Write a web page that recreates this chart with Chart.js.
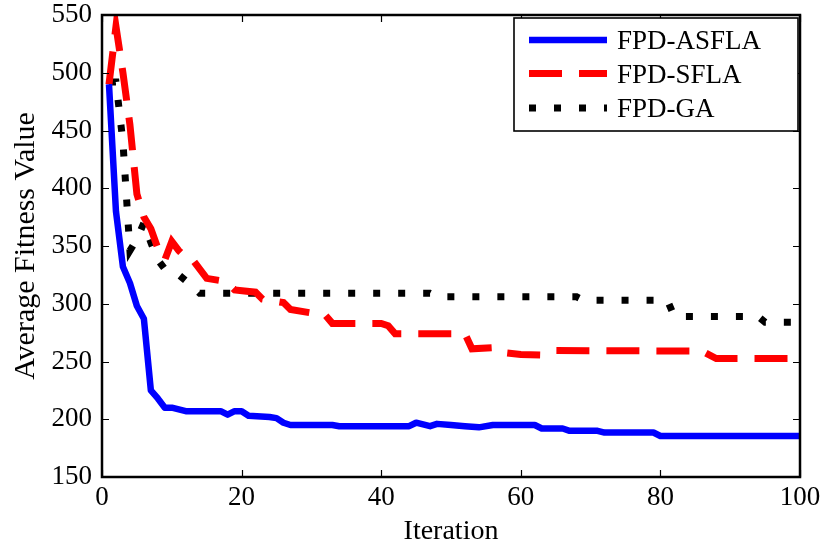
<!DOCTYPE html>
<html>
<head>
<meta charset="utf-8">
<script src="https://cdn.jsdelivr.net/npm/chart.js@4/dist/chart.umd.min.js"></script>
<style>
  html, body { margin: 0; padding: 0; background: #fff; }
  #wrap { width: 827px; height: 548px; }
</style>
</head>
<body>
<div id="wrap"><canvas id="fitChart" width="827" height="548"></canvas></div>
<script>
"use strict";

// iteration / value breakpoints
const asflaIter = [1, 2, 3, 4, 5, 6, 7, 8, 9, 10, 12, 17, 18, 19, 20, 21, 24, 25, 26, 27, 33, 34, 44, 45, 47, 48, 50, 52, 54, 56, 62, 63, 66, 67, 71, 72, 79, 80, 100];
const asflaVal = [490, 380, 332, 318, 298, 287, 225, 218, 210, 210, 207, 207, 204, 207, 207, 203, 202, 201, 197, 195, 195, 194, 194, 197, 194, 196, 195, 194, 193, 195, 195, 192, 192, 190, 190, 188.5, 188.5, 185.5, 185.5];

const sflaIter = [1, 2, 3, 4, 5, 6, 7, 8, 9, 10, 11, 12, 13, 15, 17, 18, 19, 22, 23, 26, 27, 30, 32, 33, 40, 41, 42, 52, 53, 56, 57, 60, 63, 65, 86, 88, 100];
const sflaVal = [490, 540, 500, 455, 395, 375, 365, 348, 338, 354, 346, 340, 338, 322, 320, 318, 312, 310, 304, 301, 295, 292, 290, 283, 283, 281, 274, 274, 261, 262, 258, 256, 255.5, 259.5, 259, 252.5, 252.5];

const gaIter = [1, 2, 3, 4, 5, 6, 7, 8, 9, 10, 11, 12, 13, 14, 47, 48, 68, 69, 81, 82, 94, 95, 100];
const gaVal = [492, 492, 440, 346, 356, 370, 353, 338, 330, 328, 325, 320, 315, 309, 309, 306, 306, 303, 303, 289, 289, 284, 284];

const seriesNames = ["FPD-ASFLA", "FPD-SFLA", "FPD-GA"];
const xTicks = [0, 20, 40, 60, 80, 100];
const yTicks = [150, 200, 250, 300, 350, 400, 450, 500, 550];

const serif = "'Liberation Serif', 'Times New Roman', serif";

function toPoints(xs, ys) {
  const pts = [];
  for (let i = 0; i < xs.length; i++) {
    pts.push({ x: xs[i], y: ys[i] });
  }
  return pts;
}

// frame, inward ticks and the boxed legend (MATLAB look)
const matlabFrame = {
  id: "matlabFrame",
  afterDatasetsDraw(chart) {
    const ctx = chart.ctx;
    const a = chart.chartArea;
    const xs = chart.scales.x;
    const ys = chart.scales.y;
    const tl = 7;
    ctx.save();
    ctx.strokeStyle = "#000";
    ctx.lineWidth = 1.2;
    ctx.beginPath();
    xTicks.forEach(v => {
      const px = Math.round(xs.getPixelForValue(v)) + 0.5;
      ctx.moveTo(px, a.bottom); ctx.lineTo(px, a.bottom - tl);
      ctx.moveTo(px, a.top); ctx.lineTo(px, a.top + tl);
    });
    yTicks.forEach(v => {
      const py = Math.round(ys.getPixelForValue(v)) + 0.5;
      ctx.moveTo(a.left, py); ctx.lineTo(a.left + tl, py);
      ctx.moveTo(a.right, py); ctx.lineTo(a.right - tl, py);
    });
    ctx.stroke();
    ctx.lineWidth = 2.5;
    ctx.strokeRect(a.left, a.top, a.right - a.left, a.bottom - a.top);

    // legend
    const box = { x: 514, y: 18, w: 284, h: 113 };
    ctx.fillStyle = "#fff";
    ctx.fillRect(box.x, box.y, box.w, box.h);
    ctx.lineWidth = 1.6;
    ctx.strokeRect(box.x, box.y, box.w, box.h);
    const rows = [40, 73.5, 108];
    chart.data.datasets.forEach((ds, i) => {
      ctx.beginPath();
      ctx.strokeStyle = ds.borderColor;
      ctx.lineWidth = ds.borderWidth;
      ctx.setLineDash(ds.borderDash || []);
      ctx.lineCap = "butt";
      ctx.moveTo(529, rows[i]);
      ctx.lineTo(607, rows[i]);
      ctx.stroke();
      ctx.setLineDash([]);
      ctx.fillStyle = "#000";
      ctx.font = "27px " + serif;
      ctx.textBaseline = "alphabetic";
      ctx.fillText(ds.label, 617, rows[i] + 9);
    });
    ctx.restore();
  }
};

new Chart(document.getElementById("fitChart"), {
  type: "line",
  data: {
    datasets: [
      {
        label: seriesNames[0],
        data: toPoints(asflaIter, asflaVal),
        borderColor: "#0000ff",
        borderWidth: 6.5,
        borderJoinStyle: "round"
      },
      {
        label: seriesNames[1],
        data: toPoints(sflaIter, sflaVal),
        borderColor: "#ff0000",
        borderWidth: 7,
        borderDash: [33, 17]
      },
      {
        label: seriesNames[2],
        data: toPoints(gaIter, gaVal),
        borderColor: "#000000",
        borderWidth: 7,
        borderDash: [7, 18]
      }
    ]
  },
  options: {
    responsive: false,
    animation: false,
    events: [],
    layout: { padding: { top: 15, right: 27, left: 0, bottom: 0 } },
    elements: {
      point: { radius: 0 },
      line: { tension: 0, borderCapStyle: "butt", fill: false }
    },
    plugins: {
      legend: { display: false },
      tooltip: { enabled: false }
    },
    scales: {
      x: {
        type: "linear",
        min: 0,
        max: 100,
        afterFit(scale) {
          scale.height = 71;
          scale.paddingLeft = 0;
          scale.paddingRight = 0;
        },
        afterBuildTicks(scale) { scale.ticks = xTicks.map(v => ({ value: v })); },
        grid: { display: false, drawTicks: false },
        border: { display: false },
        ticks: { color: "#000", padding: 5, font: { family: serif, size: 27 } },
        title: {
          display: true,
          text: "Iteration",
          color: "#000",
          padding: { top: 0, bottom: 0 },
          font: { family: serif, size: 28 }
        }
      },
      y: {
        type: "linear",
        min: 150,
        max: 550,
        afterFit(scale) {
          scale.width = 102;
          scale.paddingTop = 0;
          scale.paddingBottom = 0;
        },
        afterBuildTicks(scale) { scale.ticks = yTicks.map(v => ({ value: v })); },
        grid: { display: false, drawTicks: false },
        border: { display: false },
        ticks: { color: "#000", padding: 10, font: { family: serif, size: 27 } },
        title: {
          display: true,
          text: "Average Fitness Value",
          color: "#000",
          padding: { top: 8, bottom: 0 },
          font: { family: serif, size: 30 }
        }
      }
    }
  },
  plugins: [matlabFrame]
});
</script>
</body>
</html>
